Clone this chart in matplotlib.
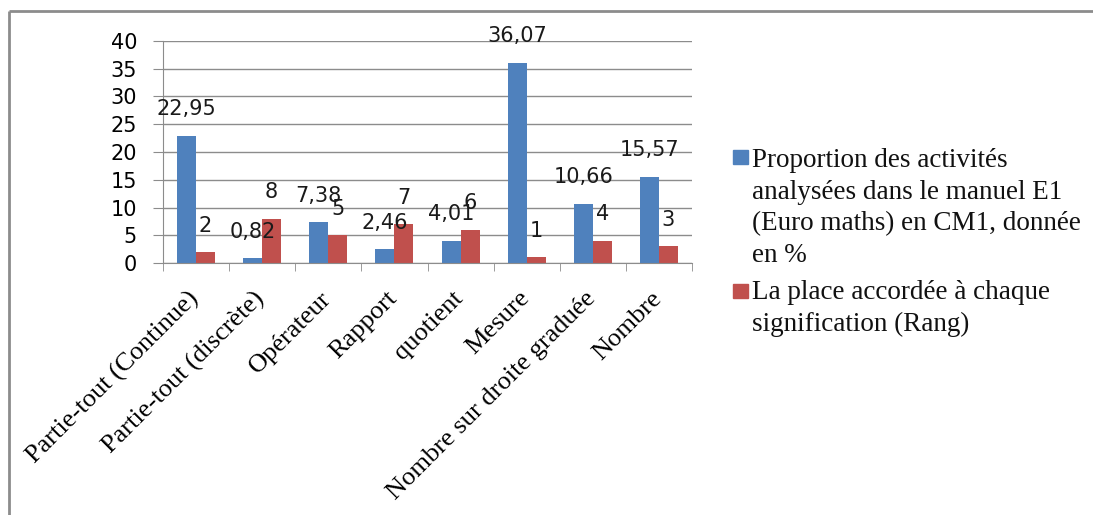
"""Bar chart: significations of fractions in the E1 textbook (CM1)."""

import matplotlib

matplotlib.use("Agg")
import matplotlib.pyplot as plt  # noqa: E402
import numpy as np  # noqa: E402
from matplotlib.lines import Line2D  # noqa: E402
from matplotlib.patches import Rectangle  # noqa: E402
from matplotlib.transforms import ScaledTranslation  # noqa: E402

CATEGORIES = [
    "Partie-tout (Continue)",
    "Partie-tout (discrète)",
    "Opérateur",
    "Rapport",
    "quotient",
    "Mesure",
    "Nombre sur droite graduée",
    "Nombre",
]
PROPORTION = [22.95, 0.82, 7.38, 2.46, 4.01, 36.07, 10.66, 15.57]
RANG = [2, 8, 5, 7, 6, 1, 4, 3]
SERIES_NAMES = [
    "Proportion des activités\nanalysées dans le manuel E1\n(Euro maths) en CM1, donnée\nen %",
    "La place accordée à chaque\nsignification (Rang)",
]
Y_TICKS = [0, 5, 10, 15, 20, 25, 30, 35, 40]

W, H = 1093, 515
BLUE = "#4F81BD"
RED = "#C0504D"
GREY = "#8C8C8C"
SERIF = "Liberation Serif"
SANS = "DejaVu Sans"


def _fmt(value: float) -> str:
    if isinstance(value, int):
        return str(value)
    return f"{value:.2f}".replace(".", ",")


def main() -> None:
    fig = plt.figure(figsize=(W / 100, H / 100), dpi=100)
    ax = fig.add_axes([163 / W, 1 - 263 / H, (692 - 163) / W, (263 - 41) / H])

    x = np.arange(len(CATEGORIES))
    width = 0.287
    for offset, values, color in ((-width / 2, PROPORTION, BLUE), (width / 2, RANG, RED)):
        ax.bar(x + offset, values, width, color=color, zorder=2)
        for xi, v in zip(x, values):
            ax.annotate(
                _fmt(v),
                (xi + offset, v),
                xytext=(0, 19),
                textcoords="offset points",
                ha="center",
                va="center",
                fontsize=15,
                family=SANS,
                color="#1a1a1a",
                zorder=3,
            )

    ax.set_xlim(-0.5, len(CATEGORIES) - 0.5)
    ax.set_ylim(0, 40)
    ax.set_yticks(Y_TICKS)
    ax.tick_params(axis="y", length=7.2, color=GREY, pad=11.5, labelsize=15)
    for lbl in ax.get_yticklabels():
        lbl.set_family(SANS)
    ax.set_xticks(x, CATEGORIES, rotation=45, ha="right")
    ax.set_xticks(np.arange(-0.5, len(CATEGORIES)), minor=True)
    ax.tick_params(axis="x", which="major", length=0, pad=17.5, labelsize=19)
    ax.tick_params(axis="x", which="minor", length=6, color=GREY)
    shift = ScaledTranslation(0.07, 0, fig.dpi_scale_trans)
    for lbl in ax.get_xticklabels():
        lbl.set_family(SERIF)
        lbl.set_transform(lbl.get_transform() + shift)

    ax.yaxis.grid(True, color=GREY, linewidth=1)
    ax.set_axisbelow(True)
    for side in ("top", "right"):
        ax.spines[side].set_visible(False)
    for side in ("left", "bottom"):
        ax.spines[side].set_color(GREY)

    # legend drawn by hand so that the squares sit on the first line
    for (top, box_top), name, color in zip(((148, 150), (280, 284)), SERIES_NAMES, (BLUE, RED)):
        fig.add_artist(
            Rectangle((733 / W, 1 - (box_top + 14) / H), 15 / W, 14 / H,
                      transform=fig.transFigure, color=color)
        )
        fig.text(752 / W, 1 - top / H, name, va="top", ha="left", linespacing=1.35,
                 fontsize=19.5, family=SERIF, color="#111111")

    # outer chart border (only top and left visible in the crop)
    fig.add_artist(Line2D([9 / W, 1], [1 - 11 / H] * 2, transform=fig.transFigure,
                          color=GREY, linewidth=2, solid_capstyle="butt"))
    fig.add_artist(Line2D([9 / W] * 2, [0, 1 - 11 / H], transform=fig.transFigure,
                          color=GREY, linewidth=2, solid_capstyle="butt"))

    fig.savefig("out.png", dpi=100)
    plt.close(fig)


if __name__ == "__main__":
    main()
